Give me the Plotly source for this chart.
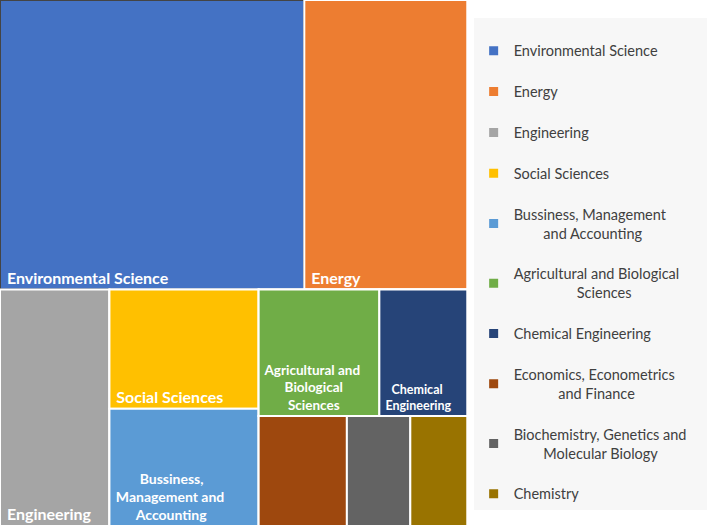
import plotly.graph_objects as go

# subject areas (leaf cells), their counts and Office-style colours
categories = [
    "Environmental Science",
    "Energy",
    "Engineering",
    "Social Sciences",
    "Bussiness, Management and Accounting",
    "Agricultural and Biological Sciences",
    "Chemical Engineering",
    "Economics, Econometrics and Finance",
    "Biochemistry, Genetics and Molecular Biology",
    "Chemistry",
]
values = [872, 467, 256, 176, 173, 151, 110, 96, 69, 62]
colors = [
    "#4472C4", "#ED7D31", "#A5A5A5", "#FFC000", "#5B9BD5",
    "#70AD47", "#264478", "#9E480E", "#636363", "#997300",
]

# hidden grouping that reproduces the Excel tiling (children in drawing order)
tree = {
    "": ["top", "bottom"],
    "top": [categories[0], categories[1]],
    "bottom": [categories[2], "sb", "rest"],
    "sb": [categories[3], categories[4]],
    "rest": ["r1", "r2"],
    "r1": [categories[5], categories[6]],
    "r2": [categories[7], categories[8], categories[9]],
}

nb = "\u00a0"
# labels drawn inside the cells (small cells left blank), lines padded to look centred
cell_text = [
    nb + "Environmental Science",
    nb + "Energy",
    nb + "Engineering",
    nb + "Social Sciences",
    nb * 8 + "Bussiness,<br>" + nb + "Management and<br>" + nb * 7 + "Accounting",
    nb + "Agricultural and<br>" + nb * 7 + "Biological<br>" + nb * 8 + "Sciences",
    nb * 3 + "Chemical<br>" + nb + "Engineering",
    "", "", "",
]
cell_font = [16, 16, 16, 16, 14, 13.5, 12.5, 12, 12, 12]

# legend labels (second line padded to look centred)
legend_names = [
    "Environmental Science",
    "Energy",
    "Engineering",
    "Social Sciences",
    "Bussiness, Management<br>" + nb * 8 + "and Accounting",
    "Agricultural and Biological<br>" + nb * 17 + "Sciences",
    "Chemical Engineering",
    "Economics, Econometrics<br>" + nb * 12 + "and Finance",
    "Biochemistry, Genetics and" + nb * 4 + "<br>" + nb * 8 + "Molecular Biology",
    "Chemistry",
]

# flatten the tree in depth-first order
ids, labels, parents, vals, node_colors, texts, sizes = [], [], [], [], [], [], []


def walk(node):
    for child in tree.get(node, []):
        ids.append(child)
        parents.append(node)
        if child in categories:
            i = categories.index(child)
            labels.append(child)
            vals.append(values[i])
            node_colors.append(colors[i])
            texts.append(cell_text[i])
            sizes.append(cell_font[i])
        else:
            labels.append("")
            vals.append(0)
            node_colors.append("white")
            texts.append("")
            sizes.append(12)
        walk(child)


walk("")

fig = go.Figure()
fig.add_trace(
    go.Treemap(
        ids=ids,
        labels=labels,
        parents=parents,
        values=vals,
        text=texts,
        textinfo="text",
        texttemplate="%{text}",
        sort=False,
        branchvalues="remainder",
        tiling=dict(packing="squarify", squarifyratio=1, pad=0),
        marker=dict(
            colors=node_colors,
            line=dict(color="white", width=2),
            pad=dict(t=0, l=0, r=0, b=0),
        ),
        pathbar=dict(visible=False),
        textposition="bottom left",
        insidetextfont=dict(family="Lato", color="white", size=sizes, weight="bold"),
        hoverinfo="skip",
        domain=dict(x=[0, 0.66], y=[0, 1]),
    )
)

for name, col in zip(legend_names, colors):
    fig.add_trace(
        go.Scatter(
            x=[None],
            y=[None],
            mode="markers",
            name=name,
            legendgroup=name,
            marker=dict(symbol="square", size=9, color=col),
        )
    )

fig.update_layout(
    width=708,
    height=528,
    margin=dict(l=0, r=0, t=0, b=2),
    paper_bgcolor="white",
    plot_bgcolor="white",
    xaxis=dict(visible=False),
    yaxis=dict(visible=False),
    showlegend=True,
    legend=dict(
        x=0.669,
        xanchor="left",
        y=0.966,
        yanchor="top",
        bgcolor="#F7F7F7",
        font=dict(family="Lato", size=14.5, color="#404040"),
        title=dict(text=" ", font=dict(size=13)),
        tracegroupgap=19,
        itemwidth=30,
        traceorder="grouped",
    ),
)

# drop the browser's default 8px body margin so the figure sits at the corner
fig.write_html(
    "out.html",
    config={"displayModeBar": False},
    post_script="document.body.style.margin='0';",
)
